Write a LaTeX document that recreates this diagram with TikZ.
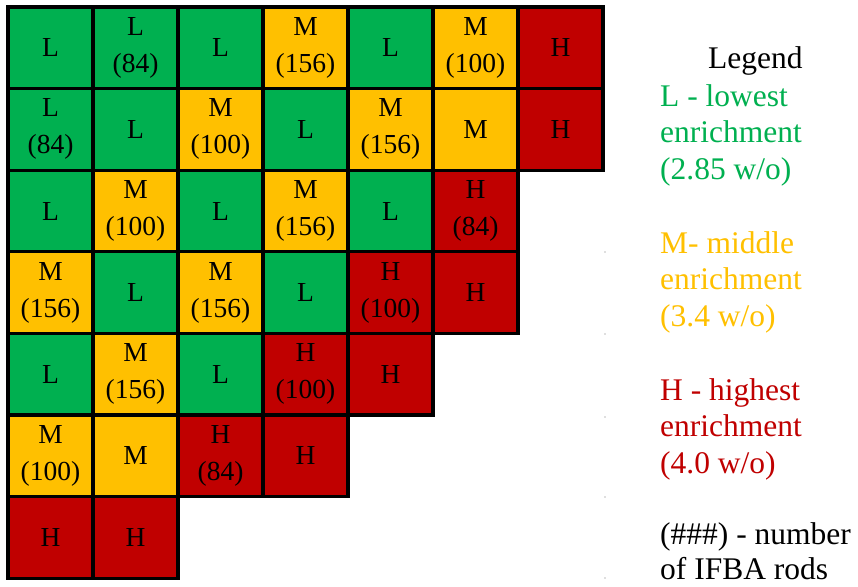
\documentclass[tikz,border=0pt]{standalone}
\usepackage{fontspec}
\setmainfont{Liberation Serif}
\definecolor{gL}{HTML}{00B050}
\definecolor{gM}{HTML}{FFC000}
\definecolor{gH}{HTML}{C00000}
\begin{document}
\begin{tikzpicture}[x=1pt,y=-1pt,
  cell/.style={rectangle,draw=black,line width=3.2pt,minimum width=85pt,minimum height=81.6pt,inner sep=0pt,align=center,font=\fontsize{27.5}{37}\selectfont,text=black},
  cL/.style={cell,fill=gL},
  cM/.style={cell,fill=gM},
  cH/.style={cell,fill=gH},
  leg/.style={anchor=base west,inner sep=0pt,font=\fontsize{31.5}{36}\selectfont},
  dot/.style={circle,fill=black!25,inner sep=0pt,minimum size=1.6pt}]
\useasboundingbox (0,0) rectangle (858,586);
\fill[white] (0,0) rectangle (858,586);
% grid: x0=8, w=85; y0=7, h=81.6
\def\X#1{8+85*#1+42.5}
\def\Y#1{7+81.6*#1+40.8}
% row 0
\node[cL] (c00) at ({\X0},{\Y0}) {L};
\node[cL] (c01) at ({\X1},{\Y0}) {L\\(84)};
\node[cL] (c02) at ({\X2},{\Y0}) {L};
\node[cM] (c03) at ({\X3},{\Y0}) {M\\(156)};
\node[cL] (c04) at ({\X4},{\Y0}) {L};
\node[cM] (c05) at ({\X5},{\Y0}) {M\\(100)};
\node[cH] (c06) at ({\X6},{\Y0}) {H};
% row 1
\node[cL] (c10) at ({\X0},{\Y1}) {L\\(84)};
\node[cL] (c11) at ({\X1},{\Y1}) {L};
\node[cM] (c12) at ({\X2},{\Y1}) {M\\(100)};
\node[cL] (c13) at ({\X3},{\Y1}) {L};
\node[cM] (c14) at ({\X4},{\Y1}) {M\\(156)};
\node[cM] (c15) at ({\X5},{\Y1}) {M};
\node[cH] (c16) at ({\X6},{\Y1}) {H};
% row 2
\node[cL] (c20) at ({\X0},{\Y2}) {L};
\node[cM] (c21) at ({\X1},{\Y2}) {M\\(100)};
\node[cL] (c22) at ({\X2},{\Y2}) {L};
\node[cM] (c23) at ({\X3},{\Y2}) {M\\(156)};
\node[cL] (c24) at ({\X4},{\Y2}) {L};
\node[cH] (c25) at ({\X5},{\Y2}) {H\\(84)};
% row 3
\node[cM] (c30) at ({\X0},{\Y3}) {M\\(156)};
\node[cL] (c31) at ({\X1},{\Y3}) {L};
\node[cM] (c32) at ({\X2},{\Y3}) {M\\(156)};
\node[cL] (c33) at ({\X3},{\Y3}) {L};
\node[cH] (c34) at ({\X4},{\Y3}) {H\\(100)};
\node[cH] (c35) at ({\X5},{\Y3}) {H};
% row 4
\node[cL] (c40) at ({\X0},{\Y4}) {L};
\node[cM] (c41) at ({\X1},{\Y4}) {M\\(156)};
\node[cL] (c42) at ({\X2},{\Y4}) {L};
\node[cH] (c43) at ({\X3},{\Y4}) {H\\(100)};
\node[cH] (c44) at ({\X4},{\Y4}) {H};
% row 5
\node[cM] (c50) at ({\X0},{\Y5}) {M\\(100)};
\node[cM] (c51) at ({\X1},{\Y5}) {M};
\node[cH] (c52) at ({\X2},{\Y5}) {H\\(84)};
\node[cH] (c53) at ({\X3},{\Y5}) {H};
% row 6
\node[cH] (c60) at ({\X0},{\Y6}) {H};
\node[cH] (c61) at ({\X1},{\Y6}) {H};
% faint page-edge dots
\foreach \yy [count=\i] in {252,334,417,497,578}
  \node[dot] (d\i) at (605,\yy) {};
% legend
\node[leg] (lg) at (708,68) {Legend};
\node[leg,text=gL] (l1) at (660,106) {L - lowest};
\node[leg,text=gL] (l2) at (660,142.5) {enrichment};
\node[leg,text=gL] (l3) at (660,179) {(2.85 w/o)};
\node[leg,text=gM] (m1) at (660,253) {M- middle};
\node[leg,text=gM] (m2) at (660,289.5) {enrichment};
\node[leg,text=gM] (m3) at (660,326) {(3.4 w/o)};
\node[leg,text=gH] (h1) at (660,400) {H - highest};
\node[leg,text=gH] (h2) at (660,436.5) {enrichment};
\node[leg,text=gH] (h3) at (660,473) {(4.0 w/o)};
\node[leg] (n1) at (660,544) {(\#\#\#) - number};
\node[leg] (n2) at (660,579) {of IFBA rods};
\end{tikzpicture}
\end{document}
